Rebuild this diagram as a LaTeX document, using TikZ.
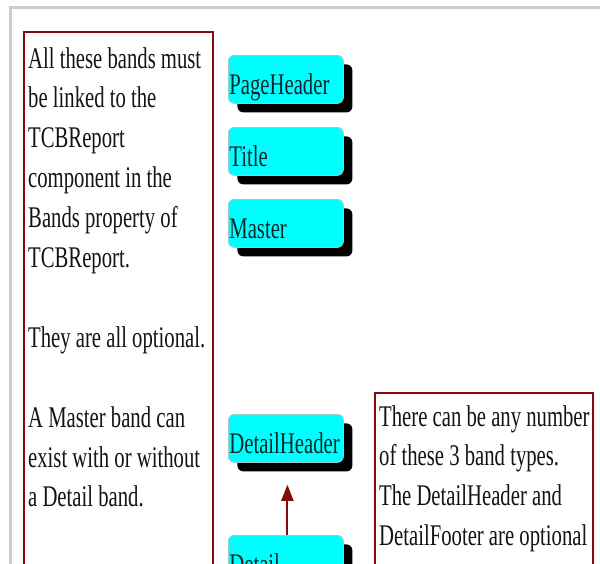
\documentclass[tikz,border=0pt]{standalone}
\usepackage{fontspec}
\newfontfamily\cond[FakeStretch=0.69]{Liberation Serif}
\usetikzlibrary{arrows.meta,shadows}
\definecolor{framegray}{RGB}{205,205,208}
\definecolor{maroon}{RGB}{128,12,12}
\definecolor{bandfill}{RGB}{0,255,255}
\definecolor{bandrim}{RGB}{150,205,205}
\definecolor{ink}{RGB}{20,20,20}
\definecolor{bandink}{RGB}{10,40,40}
\begin{document}
\begin{tikzpicture}[x=1pt,y=-1pt,
  frameline/.style={draw=framegray, line width=3pt},
  notebox/.style={draw=maroon, line width=2.2pt},
  notetext/.style={anchor=base west, inner sep=0pt, text=ink,
    font=\cond\fontsize{30}{39.9}\selectfont},
  bandbox/.style={anchor=north west, fill=bandfill, draw=bandrim, line width=0.8pt,
    rounded corners=6pt, minimum width=115pt, minimum height=48pt,
    text width=113pt, inner sep=1pt, align=left, text=bandink,
    text height=32pt, text depth=2pt,
    font=\cond\fontsize{30}{36}\selectfont,
    drop shadow={shadow xshift=9pt, shadow yshift=-9pt, fill=black, opacity=1}},
  link/.style={draw=maroon, line width=2pt, -{Triangle[length=16pt,width=12pt]}}
]
\useasboundingbox (0,0) rectangle (600,563);
\clip (0,0) rectangle (600,563);
\fill[white] (0,0) rectangle (600,563);
% outer light frame
\draw[frameline] (10,600) -- (10,7) -- (610,7);
% note boxes
\draw[notebox] (24,32) rectangle (213,620);
\draw[notebox] (375,393) rectangle (593,620);
\node[notetext] (leftnote) at (28,68) {\parbox[t]{185pt}{\raggedright
All these bands must\\
be linked to the\\
TCBReport\\
component in the\\
Bands property of\\
TCBReport.\\
\mbox{}\\
They are all optional.\\
\mbox{}\\
A Master band can\\
exist with or without\\
a Detail band.}};
\node[notetext] (rightnote) at (379,426) {\parbox[t]{214pt}{\raggedright
There can be any number\\
of these 3 band types.\\
The DetailHeader and\\
DetailFooter are optional}};
% bands
\node[bandbox] (pageheader) at (228,55) {PageHeader};
\node[bandbox] (title) at (228,127) {Title};
\node[bandbox] (master) at (228,199) {Master};
\node[bandbox] (dheader) at (228,414) {DetailHeader};
\node[bandbox] (detail) at (228,535) {Detail};
% link
\draw[link, shorten >=22pt] ([xshift=1.5pt]detail.north) -- ([xshift=1.5pt]dheader.south);
\end{tikzpicture}
\end{document}
